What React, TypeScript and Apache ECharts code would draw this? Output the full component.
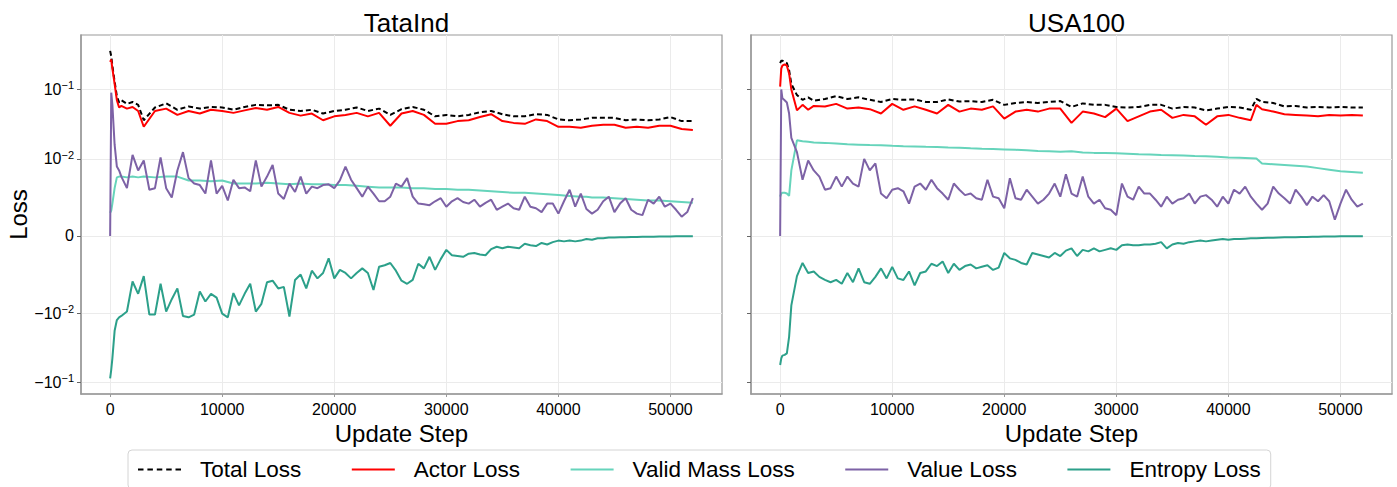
import React, { useEffect, useRef } from "react";
import * as echarts from "echarts";

// update steps for the smoother curves (total, actor, valid mass)
const steps = [
  0, 100, 200, 400, 600, 800, 1000, 1500, 2000, 2500,
  3000, 4000, 5000, 6000, 7000, 8000, 9000, 10000, 11000, 12000,
  13000, 14000, 15000, 16000, 17000, 18000, 19000, 20000, 21000, 22000,
  23000, 24000, 25000, 26000, 27000, 28000, 29000, 30000, 31000, 32000,
  33000, 34000, 35000, 36000, 37000, 38000, 39000, 40000, 41000, 42000,
  42500, 43000, 44000, 45000, 46000, 47000, 48000, 49000, 50000, 51000, 52000,
];

// denser update steps for the noisy curves (value, entropy)
const denseSteps = [
  0, 100, 200, 400, 600, 800, 1000, 1500, 2000, 2500,
  3000, 3500, 4000, 4500, 5000, 5500, 6000, 6500, 7000, 7500,
  8000, 8500, 9000, 9500, 10000, 10500, 11000, 11500, 12000, 12500,
  13000, 13500, 14000, 14500, 15000, 15500, 16000, 16500, 17000, 17500,
  18000, 18500, 19000, 19500, 20000, 20500, 21000, 21500, 22000, 22500,
  23000, 23500, 24000, 24500, 25000, 25500, 26000, 26500, 27000, 27500,
  28000, 28500, 29000, 29500, 30000, 30500, 31000, 31500, 32000, 32500,
  33000, 33500, 34000, 34500, 35000, 35500, 36000, 36500, 37000, 37500,
  38000, 38500, 39000, 39500, 40000, 40500, 41000, 41500, 42000, 42500,
  43000, 43500, 44000, 44500, 45000, 45500, 46000, 46500, 47000, 47500,
  48000, 48500, 49000, 49500, 50000, 50500, 51000, 51500, 52000,
];

const seriesNames = ["Total Loss", "Actor Loss", "Valid Mass Loss", "Value Loss", "Entropy Loss"];
const seriesColors = ["#000000", "#ff0000", "#66d4bb", "#7d62a6", "#2ca08a"];
const panelTitles = ["TataInd", "USA100"];

// ---- TataInd ----
const tataTotal = [
  0.36, 0.3, 0.22, 0.13, 0.08, 0.065, 0.07, 0.062, 0.066, 0.06,
  0.036, 0.055, 0.063, 0.051, 0.057, 0.053, 0.056, 0.055, 0.051, 0.056,
  0.06, 0.059, 0.06, 0.051, 0.049, 0.051, 0.045, 0.049, 0.051, 0.055,
  0.049, 0.053, 0.043, 0.052, 0.056, 0.051, 0.041, 0.043, 0.041, 0.043,
  0.047, 0.049, 0.044, 0.041, 0.041, 0.044, 0.043, 0.037, 0.036, 0.037,
  0.038, 0.039, 0.039, 0.039, 0.036, 0.037, 0.036, 0.037, 0.04, 0.035, 0.035,
];
const tataActor = [
  0.25, 0.27, 0.2, 0.12, 0.07, 0.055, 0.058, 0.053, 0.056, 0.049,
  0.029, 0.049, 0.053, 0.043, 0.049, 0.045, 0.051, 0.049, 0.046, 0.05,
  0.054, 0.051, 0.056, 0.046, 0.042, 0.045, 0.036, 0.041, 0.043, 0.046,
  0.041, 0.046, 0.03, 0.045, 0.049, 0.043, 0.032, 0.032, 0.035, 0.036,
  0.04, 0.044, 0.035, 0.033, 0.032, 0.037, 0.035, 0.029, 0.029, 0.028,
  0.029, 0.03, 0.031, 0.031, 0.028, 0.029, 0.028, 0.03, 0.03, 0.027, 0.026,
];
const tataValidMass = [
  0.003, 0.0033, 0.0042, 0.0062, 0.0076, 0.0077, 0.0077, 0.0076, 0.0077, 0.0076,
  0.0077, 0.0076, 0.0077, 0.0077, 0.0072, 0.0072, 0.0071, 0.0072, 0.0068, 0.0068,
  0.0068, 0.0069, 0.0068, 0.0067, 0.0068, 0.0067, 0.0067, 0.0066, 0.0066, 0.0065,
  0.0064, 0.0063, 0.0063, 0.0063, 0.0062, 0.0062, 0.0061, 0.0061, 0.006, 0.006,
  0.0059, 0.0058, 0.0057, 0.0056, 0.0056, 0.0055, 0.0054, 0.0053, 0.0052, 0.0051,
  0.0051, 0.005, 0.005, 0.0049, 0.0048, 0.0047, 0.0046, 0.0046, 0.0045, 0.0044, 0.0043,
];
const tataValue = [
  0, 0.09, 0.06, 0.016, 0.009, 0.0085, 0.0077, 0.0062, 0.0114, 0.0085,
  0.0098, 0.006, 0.0062, 0.0105, 0.0062, 0.005, 0.0085, 0.0125, 0.0075, 0.0068,
  0.0066, 0.0055, 0.0098, 0.0055, 0.0065, 0.0046, 0.0073, 0.0062, 0.0063, 0.0058,
  0.0098, 0.0064, 0.0077, 0.0092, 0.0055, 0.0048, 0.0068, 0.0057, 0.0077, 0.0055,
  0.0064, 0.0062, 0.0066, 0.0067, 0.0062, 0.0072, 0.009, 0.0073, 0.0062, 0.0051,
  0.0064, 0.0055, 0.0045, 0.0045, 0.0051, 0.0068, 0.0064, 0.0075, 0.0051, 0.0042,
  0.0041, 0.004, 0.0045, 0.0049, 0.0038, 0.0045, 0.0049, 0.0044, 0.0042, 0.0047,
  0.0038, 0.0043, 0.0047, 0.0034, 0.0038, 0.0042, 0.0036, 0.0034, 0.0051, 0.0038,
  0.0036, 0.0031, 0.0042, 0.0042, 0.0029, 0.0045, 0.006, 0.0038, 0.0055, 0.0035,
  0.0029, 0.0034, 0.0045, 0.0051, 0.0031, 0.0042, 0.0049, 0.0034, 0.0029, 0.0027,
  0.0047, 0.0042, 0.0051, 0.0038, 0.0042, 0.0034, 0.0025, 0.0031, 0.0049,
];
const tataEntropy = [
  -0.087, -0.065, -0.045, -0.018, -0.0126, -0.0115, -0.011, -0.0098, -0.0059, -0.0075,
  -0.0052, -0.0105, -0.0105, -0.0062, -0.0098, -0.0082, -0.0068, -0.011, -0.0115, -0.0105,
  -0.0072, -0.0085, -0.0075, -0.008, -0.0102, -0.0115, -0.0074, -0.009, -0.0075, -0.0062,
  -0.0098, -0.0088, -0.006, -0.0058, -0.0068, -0.0066, -0.0112, -0.0057, -0.005, -0.0068,
  -0.0045, -0.0055, -0.0048, -0.0029, -0.0055, -0.0044, -0.0048, -0.0055, -0.0048, -0.0042,
  -0.0048, -0.007, -0.004, -0.0038, -0.0035, -0.0045, -0.0058, -0.0062, -0.0057, -0.0036,
  -0.0042, -0.0027, -0.0044, -0.003, -0.0018, -0.0025, -0.0026, -0.0027, -0.0023, -0.0022,
  -0.0024, -0.0025, -0.0017, -0.0014, -0.0016, -0.0014, -0.0015, -0.0016, -0.001, -0.0012,
  -0.0013, -0.0009, -0.0011, -0.0008, -0.0006, -0.0007, -0.0006, -0.0007, -0.0006, -0.0004,
  -0.0005, -0.0003, -0.0003, -0.0002, -0.0002, -0.00018, -0.00016, -0.00014, -0.00012, -0.0001,
  -0.0001, -0.00009, -0.00008, -0.00007, -0.00006, -0.00005, -0.00004, -0.00003, -0.00002,
];

// ---- USA100 ----
const usaTotal = [
  0.24, 0.26, 0.26, 0.25, 0.24, 0.19, 0.12, 0.083, 0.071, 0.077,
  0.069, 0.073, 0.08, 0.073, 0.077, 0.071, 0.066, 0.073, 0.071, 0.072,
  0.066, 0.066, 0.072, 0.067, 0.068, 0.066, 0.071, 0.06, 0.064, 0.066,
  0.064, 0.066, 0.068, 0.056, 0.063, 0.06, 0.06, 0.056, 0.055, 0.056,
  0.06, 0.06, 0.053, 0.056, 0.055, 0.05, 0.053, 0.056, 0.055, 0.051,
  0.073, 0.066, 0.064, 0.057, 0.058, 0.055, 0.056, 0.055, 0.056, 0.055, 0.055,
];
const usaActor = [
  0.11, 0.2, 0.22, 0.23, 0.22, 0.17, 0.1, 0.05, 0.06, 0.051,
  0.058, 0.057, 0.062, 0.053, 0.055, 0.052, 0.045, 0.062, 0.051, 0.057,
  0.051, 0.045, 0.06, 0.048, 0.053, 0.051, 0.057, 0.038, 0.048, 0.051,
  0.048, 0.053, 0.053, 0.033, 0.048, 0.045, 0.04, 0.053, 0.035, 0.041,
  0.048, 0.051, 0.039, 0.043, 0.041, 0.031, 0.041, 0.043, 0.039, 0.036,
  0.06, 0.052, 0.048, 0.044, 0.043, 0.042, 0.041, 0.043, 0.042, 0.043, 0.042,
];
const usaValidMass = [
  0.0051, 0.0055, 0.0056, 0.0056, 0.0055, 0.0052, 0.0085, 0.0185, 0.018, 0.0176,
  0.0172, 0.017, 0.0166, 0.0162, 0.016, 0.0158, 0.0157, 0.0154, 0.0152, 0.0151,
  0.0149, 0.0148, 0.0146, 0.0145, 0.0142, 0.014, 0.0139, 0.0137, 0.0135, 0.0133,
  0.013, 0.0129, 0.0127, 0.0129, 0.0124, 0.0122, 0.0121, 0.012, 0.0119, 0.0117,
  0.0116, 0.0114, 0.0113, 0.0112, 0.011, 0.0109, 0.0107, 0.0105, 0.0104, 0.0102,
  0.0101, 0.0094, 0.0093, 0.0092, 0.0091, 0.009, 0.0088, 0.0086, 0.0084, 0.0083, 0.0082,
];
const usaValue = [
  0, 0.1, 0.075, 0.07, 0.065, 0.045, 0.02, 0.0125, 0.0073, 0.0098,
  0.0085, 0.0077, 0.006, 0.0062, 0.0077, 0.0064, 0.0077, 0.0068, 0.0064, 0.01,
  0.0085, 0.0094, 0.0055, 0.0049, 0.006, 0.0062, 0.0058, 0.0042, 0.0064, 0.0068,
  0.006, 0.0073, 0.0062, 0.0055, 0.0047, 0.0068, 0.006, 0.0053, 0.0055, 0.0049,
  0.0047, 0.0073, 0.0051, 0.0049, 0.0036, 0.0075, 0.0049, 0.0047, 0.006, 0.0051,
  0.0042, 0.0047, 0.0055, 0.0068, 0.0051, 0.008, 0.0055, 0.0051, 0.0077, 0.0051,
  0.0042, 0.0047, 0.0036, 0.0034, 0.0027, 0.0068, 0.0051, 0.0047, 0.0064, 0.0055,
  0.0055, 0.0047, 0.0038, 0.0051, 0.0042, 0.0047, 0.0049, 0.0055, 0.0042, 0.0051,
  0.0053, 0.0047, 0.0038, 0.0051, 0.0042, 0.006, 0.0055, 0.0064, 0.0051, 0.0042,
  0.0034, 0.0042, 0.0064, 0.0055, 0.0049, 0.0042, 0.006, 0.0051, 0.004, 0.0051,
  0.0045, 0.0053, 0.0045, 0.0021, 0.0042, 0.006, 0.0047, 0.0038, 0.0042,
];
const usaEntropy = [
  -0.056, -0.045, -0.041, -0.04, -0.038, -0.022, -0.009, -0.0052, -0.0035, -0.0048,
  -0.0046, -0.0053, -0.0057, -0.006, -0.0057, -0.0062, -0.0048, -0.006, -0.0042, -0.006,
  -0.0062, -0.0053, -0.0042, -0.0055, -0.004, -0.0055, -0.0057, -0.0046, -0.0064, -0.0048,
  -0.0046, -0.0036, -0.0039, -0.0033, -0.0048, -0.0036, -0.0044, -0.0039, -0.0037, -0.0042,
  -0.004, -0.0038, -0.0044, -0.0041, -0.0022, -0.0029, -0.0031, -0.0035, -0.0037, -0.0022,
  -0.0024, -0.0026, -0.0028, -0.0022, -0.0026, -0.0019, -0.0016, -0.0026, -0.0018, -0.002,
  -0.0016, -0.002, -0.0018, -0.0016, -0.0018, -0.0012, -0.0011, -0.0012, -0.0012, -0.0011,
  -0.0011, -0.001, -0.0008, -0.0016, -0.0011, -0.0009, -0.001, -0.0008, -0.0007, -0.0006,
  -0.0007, -0.0006, -0.0005, -0.0004, -0.0005, -0.0004, -0.0004, -0.00035, -0.0003, -0.00028,
  -0.00026, -0.00024, -0.00022, -0.0002, -0.00018, -0.00016, -0.00015, -0.00013, -0.00012, -0.0001,
  -0.00009, -0.00008, -0.00007, -0.00006, -0.00005, -0.00004, -0.00003, -0.00002, -0.00002,
];

const xTickValues = [0, 10000, 20000, 30000, 40000, 50000];
const yTickValues = [-0.1, -0.01, 0, 0.01, 0.1];
const yTickBase = ["\u221210", "\u221210", "0", "10", "10"];
const yTickExp = ["\u22121", "\u22122", "", "\u22122", "\u22121"];

// symmetric log scale (linthresh 0.01, linscale 1, base 10) like matplotlib
const LINTHRESH = 0.01;
const LINSCALE_ADJ = 1 / (1 - 1 / 10);
function symlog(v: number): number {
  const a = Math.abs(v);
  const s = v < 0 ? -1 : 1;
  if (a <= LINTHRESH) return s * (a / LINTHRESH) * LINSCALE_ADJ;
  return s * (LINSCALE_ADJ + Math.log10(a / LINTHRESH));
}

const FONT = "'Liberation Sans', Arial, Helvetica, sans-serif";
const SOLID_ICON = "path://M0,0H43V2H0Z";
const DASH_ICON =
  "path://M0,0H5.5V2H0Z M9.4,0H14.9V2H9.4Z M18.8,0H24.3V2H18.8Z M28.2,0H33.7V2H28.2Z M37.5,0H43V2H37.5Z";

export default function App() {
  const ref = useRef<HTMLDivElement | null>(null);

  useEffect(() => {
    document.body.style.margin = "0";
    if (!ref.current) return;
    const chart = echarts.init(ref.current, undefined, { renderer: "svg" });

    const panels = [
      [tataTotal, tataActor, tataValidMass, tataValue, tataEntropy],
      [usaTotal, usaActor, usaValidMass, usaValue, usaEntropy],
    ];
    const panelSteps = [steps, steps, steps, denseSteps, denseSteps];
    const yTicksT = yTickValues.map(symlog);
    const yMin = -2.277;
    const yMax = 2.896;
    const gridLefts = [81, 751];
    const gridWidth = 641;

    const grids = gridLefts.map((l) => ({
      left: l,
      top: 35,
      width: gridWidth,
      height: 359,
      show: true,
      borderColor: "#9a9a9a",
      borderWidth: 1.2,
      backgroundColor: "transparent",
      containLabel: false,
      outerBoundsMode: "none",
    }));

    const xAxes = gridLefts.map((_, g) => ({
      type: "value",
      gridIndex: g,
      min: -2600,
      max: 54600,
      name: "Update Step",
      nameLocation: "middle",
      nameGap: 24,
      nameTextStyle: { fontSize: 24, color: "#000", fontFamily: FONT },
      axisLine: { show: true, onZero: false, lineStyle: { color: "#9a9a9a", width: 1.5 } },
      axisTick: { show: true, length: 3, customValues: xTickValues, lineStyle: { color: "#9a9a9a" } },
      axisLabel: {
        customValues: xTickValues,
        fontSize: 16,
        color: "#000",
        fontFamily: FONT,
        margin: 7,
        formatter: (v: number) => String(v),
      },
      splitLine: { show: true, lineStyle: { color: "#ebebeb", width: 1 } },
    }));

    const yAxes = gridLefts.map((_, g) => ({
      type: "value",
      gridIndex: g,
      min: yMin,
      max: yMax,
      name: g === 0 ? "Loss" : "",
      nameLocation: "middle",
      nameGap: 47,
      nameTextStyle: { fontSize: 24, color: "#000", fontFamily: FONT },
      axisLine: { show: true, onZero: false, lineStyle: { color: "#9a9a9a", width: 1.5 } },
      axisTick: { show: true, length: 4, customValues: yTicksT, lineStyle: { color: "#666" } },
      axisLabel: {
        show: g === 0,
        customValues: yTicksT,
        margin: 7,
        formatter: (v: number) => {
          let idx = 0;
          let best = Infinity;
          yTicksT.forEach((t, i) => {
            const d = Math.abs(t - v);
            if (d < best) {
              best = d;
              idx = i;
            }
          });
          const b = yTickBase[idx];
          const e = yTickExp[idx];
          return e ? `{b|${b}}{s|${e}}` : `{b|${b}}`;
        },
        rich: {
          b: { fontSize: 16, color: "#000", fontFamily: FONT, lineHeight: 19 },
          s: { fontSize: 11, color: "#000", fontFamily: FONT, lineHeight: 10, verticalAlign: "top" },
        },
      },
      splitLine: { show: true, lineStyle: { color: "#ebebeb", width: 1 } },
    }));

    const series: any[] = [];
    panels.forEach((panel, p) => {
      panel.forEach((vals, k) => {
        const xs = panelSteps[k];
        series.push({
          type: "line",
          name: seriesNames[k],
          xAxisIndex: p,
          yAxisIndex: p,
          data: xs.map((s, i) => [s, symlog(vals[i])]),
          showSymbol: false,
          symbol: "none",
          silent: true,
          itemStyle: { color: seriesColors[k] },
          lineStyle: {
            color: seriesColors[k],
            width: 2,
            type: k === 0 ? [5, 3] : "solid",
          },
          z: 2 + k,
        });
      });
    });

    chart.setOption({
      animation: false,
      textStyle: { fontFamily: FONT },
      title: panelTitles.map((t, g) => ({
        text: t,
        left: gridLefts[g] + gridWidth / 2,
        top: 5,
        textAlign: "center",
        textStyle: { fontSize: 26, fontWeight: "normal", color: "#000", fontFamily: FONT },
      })),
      legend: {
        data: seriesNames.map((n, k) => ({ name: n, icon: k === 0 ? DASH_ICON : SOLID_ICON })),
        left: 128,
        top: 450,
        orient: "horizontal",
        itemWidth: 43,
        itemHeight: 2,
        itemGap: 50.5,
        padding: [8, 10, 8, 10],
        borderColor: "#d4d4d4",
        borderWidth: 1,
        borderRadius: 4,
        textStyle: { fontSize: 22.5, color: "#000", fontFamily: FONT, padding: [0, 0, 0, 14] },
      },
      grid: grids,
      xAxis: xAxes,
      yAxis: yAxes,
      series,
    } as any);

    return () => {
      chart.dispose();
    };
  }, []);

  return <div ref={ref} style={{ width: 1397, height: 487 }} />;
}
